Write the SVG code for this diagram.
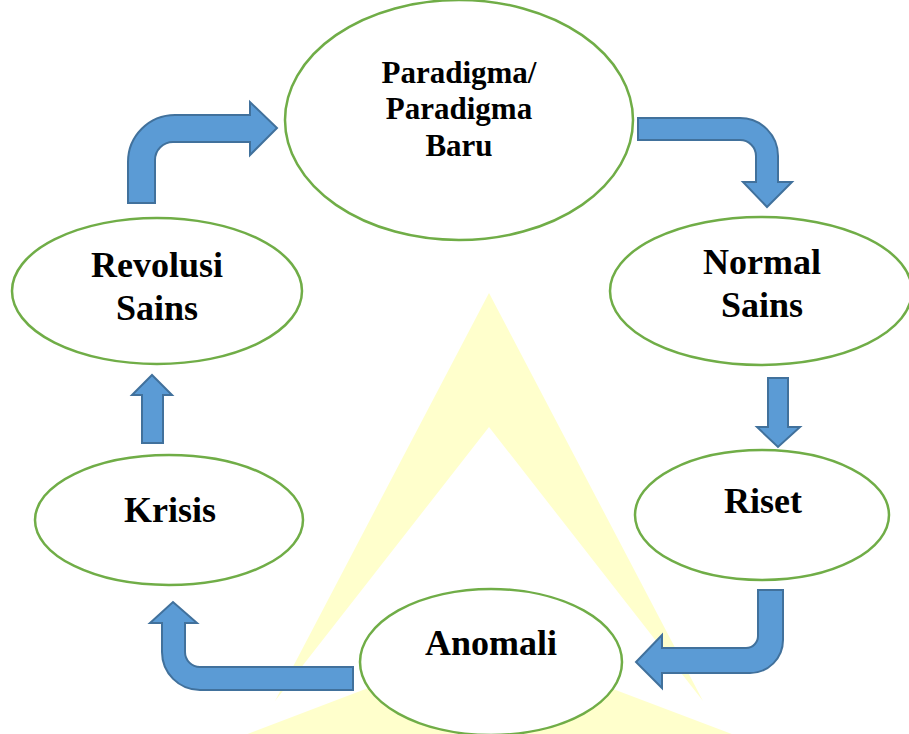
<svg xmlns="http://www.w3.org/2000/svg" width="909" height="734" viewBox="0 0 909 734">
<style>
.node ellipse{fill:#fff;stroke:#70AD47;stroke-width:2.5}
.node text{font-family:'Liberation Serif','Times New Roman',Tinos,'DejaVu Serif',serif;font-weight:700;fill:#000;text-anchor:middle}
.big{font-size:36px}
.mid{font-size:31px}
.arrow{fill:#5B9BD5;stroke:#41719C;stroke-width:2;stroke-linejoin:miter}
.wm{fill:#FFFFCC}
</style>
<rect width="909" height="734" fill="#fff"/>
<g id="watermark">
<polygon class="wm" points="489,293 703,701 489,427 275,701"/>
<polygon class="wm" points="489,642 840,775 840,800 140,800 140,775"/>
</g>
<g id="connectors">
<path class="arrow" d="M128,203 L128,162 A47,47 0 0 1 175,115 L250,115 L250,102 L277,128 L250,155 L250,142 L173,142 A18,18 0 0 0 155,160 L155,203 Z"/>
<path class="arrow" d="M638,118 L740,118 A38,38 0 0 1 778,156 L778,182 L792,182 L767,207 L743,182 L756,182 L756,156 A16,16 0 0 0 740,140 L638,140 Z"/>
<path class="arrow" d="M768,378 L788,378 L788,427 L800,427 L778,447 L757,427 L768,427 Z"/>
<path class="arrow" d="M758,590 L783,590 L783,640 A33,33 0 0 1 750,673 L662,673 L662,688 L636,662 L662,635 L662,648 L746,648 A12,12 0 0 0 758,636 Z"/>
<path class="arrow" d="M353,667 L200,667 A15,15 0 0 1 185,652 L185,623 L197,623 L173,602 L150,623 L162,623 L162,652 A38,38 0 0 0 200,690 L353,690 Z"/>
<path class="arrow" d="M142,443 L163,443 L163,395 L172,395 L152,375 L132,395 L142,395 Z"/>
</g>
<g id="paradigma" class="node">
<ellipse cx="459" cy="120" rx="174" ry="120"/>
<text class="mid" x="459" y="83" font-family="Liberation Serif, serif">Paradigma/</text>
<text class="mid" x="459" y="119" font-family="Liberation Serif, serif">Paradigma</text>
<text class="mid" x="459" y="156" font-family="Liberation Serif, serif">Baru</text>
</g>
<g id="normal-sains" class="node">
<ellipse cx="761" cy="291" rx="151" ry="74"/>
<text class="big" x="762" y="274" font-family="Liberation Serif, serif">Normal</text>
<text class="big" x="762" y="317" font-family="Liberation Serif, serif">Sains</text>
</g>
<g id="riset" class="node">
<ellipse cx="762" cy="515" rx="127" ry="65"/>
<text class="big" x="763" y="513" font-family="Liberation Serif, serif">Riset</text>
</g>
<g id="anomali" class="node">
<ellipse cx="491" cy="662" rx="131" ry="73"/>
<text class="big" x="491" y="655" font-family="Liberation Serif, serif">Anomali</text>
</g>
<g id="krisis" class="node">
<ellipse cx="169" cy="520" rx="134" ry="65"/>
<text class="big" x="170" y="522" font-family="Liberation Serif, serif">Krisis</text>
</g>
<g id="revolusi-sains" class="node">
<ellipse cx="157" cy="291" rx="145" ry="73"/>
<text class="big" x="157" y="277" font-family="Liberation Serif, serif">Revolusi</text>
<text class="big" x="157" y="320" font-family="Liberation Serif, serif">Sains</text>
</g>
</svg>
